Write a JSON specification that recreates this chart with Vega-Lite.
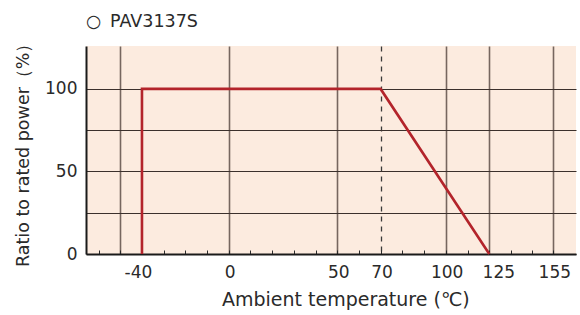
{
  "$schema": "https://vega.github.io/schema/vega-lite/v6.json",
  "width": 490,
  "height": 208,
  "autosize": {"type": "none"},
  "padding": {"left": 86, "top": 46, "right": 4, "bottom": 61},
  "background": "white",
  "config": {
    "view": {"fill": "#FCEBDF", "stroke": null},
    "font": "DejaVu Sans"
  },
  "title": {
    "text": "○\u2002PAV3137S",
    "anchor": "start",
    "frame": "group",
    "fontSize": 17.5,
    "fontWeight": "normal",
    "color": "#2a2a2a",
    "font": "DejaVu Sans",
    "baseline": "alphabetic",
    "offset": -10.5
  },
  "data": {
    "values": [
      {"t": -40, "p": 0, "i": 1},
      {"t": -40, "p": 100, "i": 2},
      {"t": 70, "p": 100, "i": 3},
      {"t": 125, "p": 0, "i": 4}
    ]
  },
  "mark": {"type": "line", "color": "#B3242B", "strokeWidth": 2.6, "strokeJoin": "miter", "clip": false},
  "encoding": {
    "order": {"field": "i", "type": "quantitative"},
    "x": {
      "field": "t",
      "type": "quantitative",
      "scale": {"domain": [-65.8, 100, 125, 155, 165.6], "range": [0, 359.7, 403.3, 467.3, 490], "nice": false, "zero": false},
      "axis": {
        "values": [-60, -50, -40, -30, -20, -10, 0, 10, 20, 30, 40, 50, 60, 70, 80, 90, 100, 112.6, 125, 135.3, 145.2, 155],
        "labelExpr": "indexof([-40, 0, 50, 70, 100, 125, 155], datum.value) >= 0 ? '' + datum.value : ''",
        "labelFlush": false,
        "labelOverlap": false,
        "labelBound": false,
        "labelFontSize": 17,
        "labelColor": "#2a2a2a",
        "labelPadding": 14,
        "labelOffset": {"condition": [{"test": "datum.value == 125", "value": 9}, {"test": "datum.value == -40", "value": -4}], "value": 1},
        "tickSize": -4,
        "tickColor": "#2a2a2a",
        "tickWidth": 1,
        "domainColor": "#1a1a1a",
        "domainWidth": 2,
        "grid": true,
        "gridColor": {"condition": {"test": "datum.value == 70", "value": "#3a3a3a"}, "value": "#76665f"},
        "gridWidth": {"condition": {"test": "datum.value == 70", "value": 1.3}, "value": 1.6},
        "gridDash": {"condition": {"test": "datum.value == 70", "value": [5, 5]}, "value": []},
        "gridOpacity": {"condition": {"test": "indexof([-50, 0, 50, 70, 100, 125, 155], datum.value) >= 0", "value": 1}, "value": 0},
        "title": "Ambient temperature (℃)",
        "titleFontSize": 19,
        "titleFontWeight": "normal",
        "titleColor": "#2a2a2a",
        "titleX": 259.3,
        "titleY": 51.7,
        "titleAlign": "center",
        "titleBaseline": "alphabetic"
      }
    },
    "y": {
      "field": "p",
      "type": "quantitative",
      "scale": {"domain": [0, 126], "nice": false, "zero": false},
      "axis": {
        "values": [0, 25, 50, 75, 100],
        "labelExpr": "datum.value % 50 == 0 ? '' + datum.value : ''",
        "labelFontSize": 17,
        "labelColor": "#2a2a2a",
        "labelPadding": 9,
        "tickSize": 0,
        "domainColor": "#1a1a1a",
        "domainWidth": 2,
        "grid": true,
        "gridColor": "#3b302c",
        "gridWidth": 1.2,
        "title": "Ratio to rated power（%）",
        "titleFontSize": 17.5,
        "titleFontWeight": "normal",
        "titleColor": "#2a2a2a",
        "titleX": -57.5,
        "titleY": 104.3,
        "titleAlign": "center",
        "titleBaseline": "alphabetic",
        "titleAngle": -90
      }
    }
  }
}
